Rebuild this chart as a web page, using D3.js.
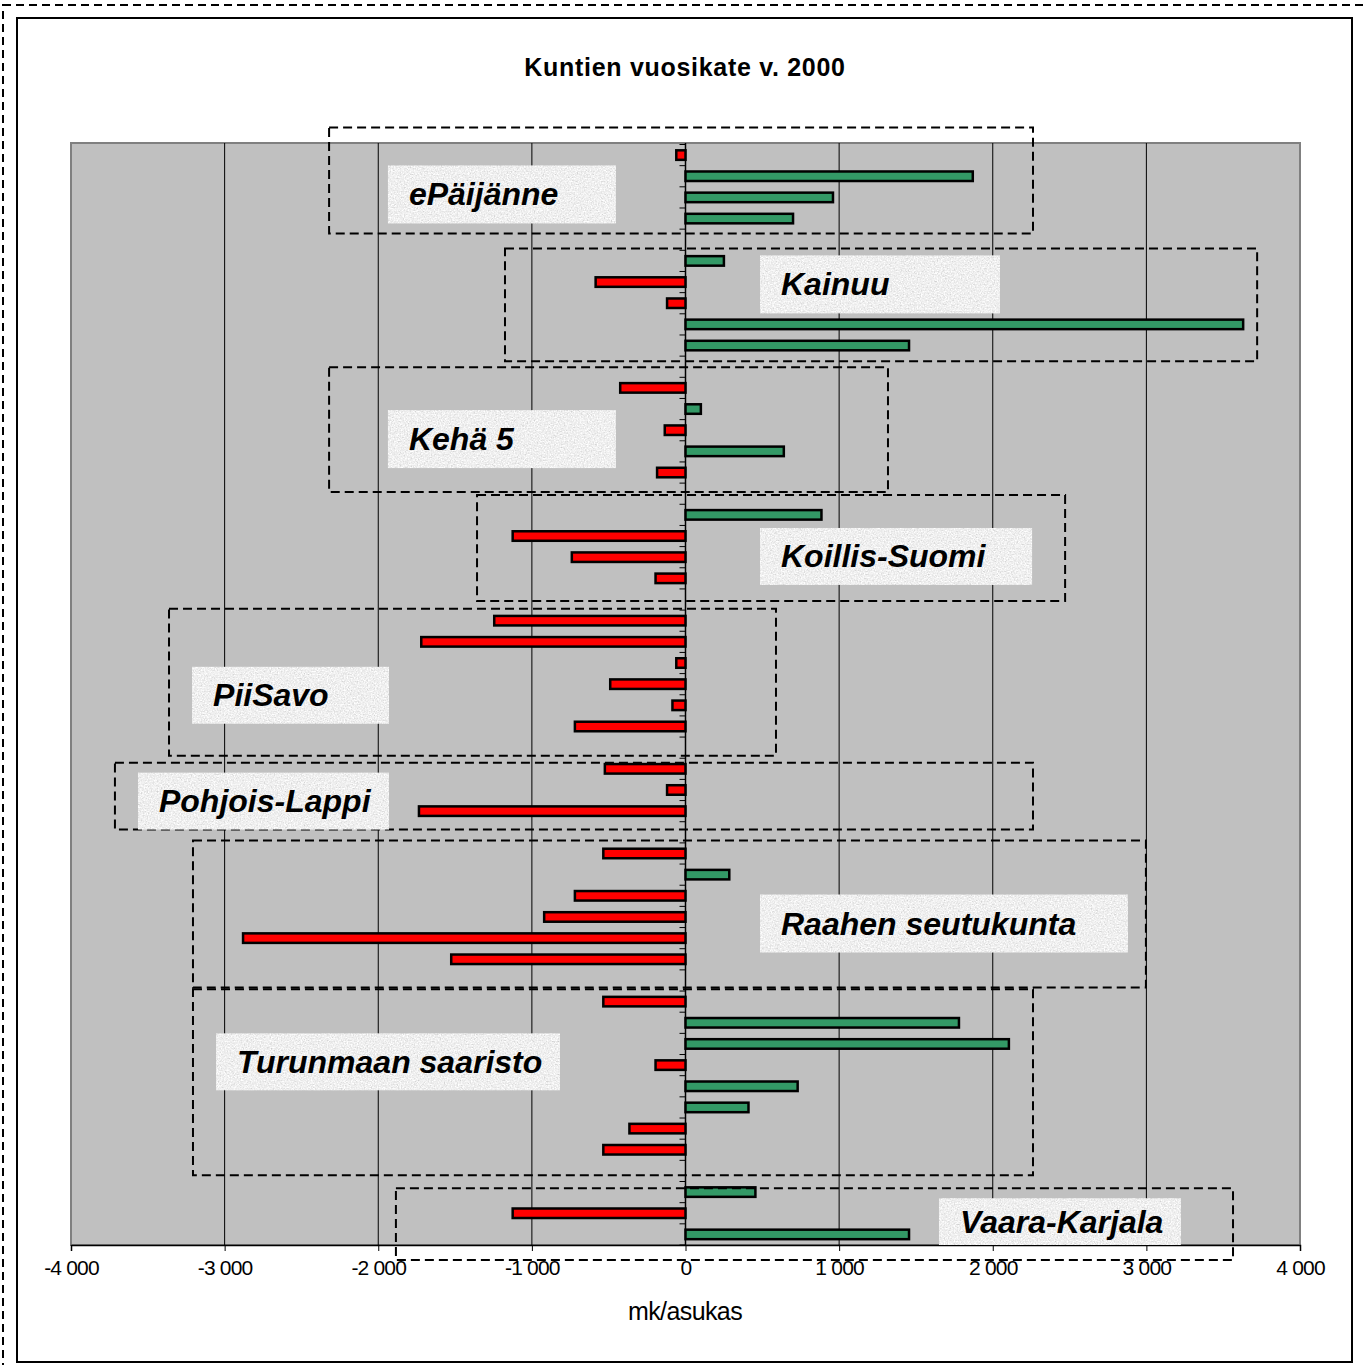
<!DOCTYPE html>
<html>
<head>
  <meta charset="utf-8">
  <title>Kuntien vuosikate v. 2000</title>
  <script src="https://d3js.org/d3.v7.min.js"></script>
  <style>
    body { margin: 0; background: #fff; }
    .canvas { font-family: "Liberation Sans", Arial, sans-serif; }
    .bar { stroke: #000; stroke-width: 2.5px; }
    .grid line { stroke: #000; stroke-width: 1px; }
    .frame { fill: none; stroke: #000; stroke-width: 2px; stroke-dasharray: 9,5; }
    .label { font-weight: bold; font-style: italic; font-size: 32px; fill: #000; }
  </style>
</head>
<body>
<script>
  // Data: one entry per row, null = blank separator row
  var values = [
    -60, 1870, 960, 700, null,
    250, -585, -120, 3630, 1455, null,
    -425, 100, -135, 640, -185, null,
    885, -1125, -740, -195, null,
    -1245, -1720, -60, -490, -85, -720, null,
    -525, -120, -1735, null,
    -535, 285, -720, -920, -2880, -1525, null,
    -535, 1780, 2105, -195, 730, 410, -365, -535, null,
    455, -1125, 1455
  ];
  var groups = ["ePäijänne", "Kainuu", "Kehä 5", "Koillis-Suomi", "PiiSavo",
                "Pohjois-Lappi", "Raahen seutukunta", "Turunmaan saaristo", "Vaara-Karjala"];
  var xTicks = [-4000, -3000, -2000, -1000, 0, 1000, 2000, 3000, 4000];
  var title = "Kuntien vuosikate v. 2000";
  var xTitle = "mk/asukas";

  // Annotation layout (value units on x, row units on y)
  var frames = [
    {x0: -2320, x1: 2262, r0: -0.80, r1: 4.20,  lx0: -1937, lx1: -453, lr0: 0.99,  lr1: 3.73},
    {x0: -1175, x1: 3721, r0: 4.91,  r1: 10.24, lx0: 485,   lx1: 2047, lr0: 5.24,  lr1: 7.98},
    {x0: -2320, x1: 1318, r0: 10.52, r1: 16.42, lx0: -1937, lx1: -453, lr0: 12.55, lr1: 15.29},
    {x0: -1357, x1: 2471, r0: 16.56, r1: 21.57, lx0: 485,   lx1: 2256, lr0: 18.12, lr1: 20.81},
    {x0: -3362, x1: 589,  r0: 21.94, r1: 28.88, lx0: -3212, lx1: -1930, lr0: 24.68, lr1: 27.37},
    {x0: -3714, x1: 2262, r0: 29.21, r1: 32.37, lx0: -3564, lx1: -1930, lr0: 29.68, lr1: 32.37},
    {x0: -3206, x1: 2997, r0: 32.89, r1: 39.83, lx0: 485,   lx1: 2880, lr0: 35.44, lr1: 38.18},
    {x0: -3206, x1: 2262, r0: 39.92, r1: 48.70, lx0: -3056, lx1: -817, lr0: 42.0,  lr1: 44.69},
    {x0: -1885, x1: 3564, r0: 49.32, r1: 52.71, lx0: 1650,  lx1: 3225, lr0: 49.79, lr1: 52.0}
  ];

  var W = 1365, H = 1365;
  var plot = {left: 71, right: 1300, top: 144.5, bottom: 1245};

  var svg = d3.select("body").append("svg")
      .attr("width", W).attr("height", H)
      .attr("class", "canvas");

  // grainy fill for the label boxes
  var defs = svg.append("defs");
  var f = defs.append("filter").attr("id", "grain")
      .attr("x", 0).attr("y", 0).attr("width", 1).attr("height", 1);
  f.append("feTurbulence").attr("type", "fractalNoise")
      .attr("baseFrequency", 0.7).attr("numOctaves", 2).attr("seed", 4).attr("result", "n");
  f.append("feColorMatrix").attr("in", "n").attr("type", "matrix")
      .attr("values", "0.33 0.33 0.33 0 0 0.33 0.33 0.33 0 0 0.33 0.33 0.33 0 0 0 0 0 0 1")
      .attr("result", "g");
  var ct = f.append("feComponentTransfer").attr("in", "g").attr("result", "t");
  ["feFuncR", "feFuncG", "feFuncB"].forEach(function(k) {
    ct.append(k).attr("type", "linear").attr("slope", 0.9).attr("intercept", 0.42);
  });
  f.append("feComposite").attr("in", "t").attr("in2", "SourceGraphic").attr("operator", "in");

  // outer dashed border + chart frame
  svg.append("rect").attr("x", 3).attr("y", 5).attr("width", W + 10).attr("height", H + 10)
      .attr("fill", "none").attr("stroke", "#000").attr("stroke-width", 2)
      .attr("stroke-dasharray", "8,5");
  svg.append("rect").attr("x", 17).attr("y", 18).attr("width", 1335).attr("height", 1344)
      .attr("fill", "#fff").attr("stroke", "#000").attr("stroke-width", 2);

  // scales
  var x = d3.scaleLinear().domain([-4000, 4000]).range([plot.left, plot.right]);
  var y = d3.scaleBand().domain(d3.range(values.length)).range([plot.top, plot.bottom]);
  var bw = y.step();
  var rowY = function(r) { return plot.top + r * bw; };

  // plot area
  svg.append("rect")
      .attr("x", plot.left).attr("y", 143)
      .attr("width", plot.right - plot.left).attr("height", plot.bottom - 143)
      .attr("fill", "#c0c0c0").attr("stroke", "#808080").attr("stroke-width", 2);

  // gridlines
  svg.append("g").attr("class", "grid")
    .selectAll("line").data(xTicks.filter(function(d) { return d > -4000 && d < 4000 && d !== 0; }))
    .enter().append("line")
      .attr("x1", function(d) { return x(d); }).attr("x2", function(d) { return x(d); })
      .attr("y1", 143).attr("y2", plot.bottom);

  // zero axis with small ticks at row boundaries
  var zero = svg.append("g");
  zero.append("line")
      .attr("x1", x(0)).attr("x2", x(0)).attr("y1", 143).attr("y2", plot.bottom)
      .attr("stroke", "#000").attr("stroke-width", 1.5);
  zero.selectAll(".tk").data(d3.range(values.length + 1)).enter().append("line")
      .attr("x1", x(0) - 6).attr("x2", x(0))
      .attr("y1", function(d) { return rowY(d); }).attr("y2", function(d) { return rowY(d); })
      .attr("stroke", "#000").attr("stroke-width", 1);

  // bars
  var barH = bw * 0.45;
  svg.append("g").selectAll("rect")
    .data(values.map(function(v, i) { return {i: i, v: v}; }).filter(function(d) { return d.v !== null; }))
    .enter().append("rect")
      .attr("class", "bar")
      .attr("x", function(d) { return x(Math.min(0, d.v)); })
      .attr("width", function(d) { return Math.abs(x(d.v) - x(0)); })
      .attr("y", function(d) { return y(d.i) + (bw - barH) / 2; })
      .attr("height", barH)
      .attr("fill", function(d) { return d.v < 0 ? "#ff0000" : "#339966"; });

  // bottom axis
  var xAxis = svg.append("g")
      .attr("transform", "translate(0," + plot.bottom + ")")
      .call(d3.axisBottom(x).tickValues(xTicks).tickSizeOuter(0).tickSize(6)
        .tickFormat(function(d) { return d3.format(",")(Math.abs(d)).replace(",", " ").replace(/^/, d < 0 ? "-" : ""); }));
  xAxis.select(".domain").attr("stroke-width", 1.5);
  xAxis.selectAll("text")
      .attr("font-family", "Liberation Sans, Arial, sans-serif")
      .attr("font-size", 21).attr("dy", "1.0em").attr("letter-spacing", -0.8)
      .attr("fill", "#000");

  // annotation frames and labels
  var fr = svg.append("g").selectAll("g").data(frames).enter().append("g");
  fr.append("rect").attr("class", "frame")
      .attr("x", function(d) { return x(d.x0); })
      .attr("y", function(d) { return rowY(d.r0); })
      .attr("width", function(d) { return x(d.x1) - x(d.x0); })
      .attr("height", function(d) { return rowY(d.r1) - rowY(d.r0); });
  fr.append("rect")
      .attr("x", function(d) { return x(d.lx0); })
      .attr("y", function(d) { return rowY(d.lr0); })
      .attr("width", function(d) { return x(d.lx1) - x(d.lx0); })
      .attr("height", function(d) { return rowY(d.lr1) - rowY(d.lr0); })
      .attr("fill", "#e0e0e0").attr("filter", "url(#grain)");
  fr.append("text").attr("class", "label")
      .attr("x", function(d) { return x(d.lx0) + 21; })
      .attr("y", function(d) { return (rowY(d.lr0) + rowY(d.lr1)) / 2 + 11; })
      .text(function(d, i) { return groups[i]; });

  // titles
  svg.append("text")
      .attr("x", 685).attr("y", 76).attr("text-anchor", "middle")
      .attr("font-size", 25).attr("font-weight", "bold").attr("letter-spacing", 0.7)
      .text(title);
  svg.append("text")
      .attr("x", 685).attr("y", 1320).attr("text-anchor", "middle")
      .attr("font-size", 25).attr("letter-spacing", -0.6)
      .text(xTitle);
</script>
</body>
</html>
